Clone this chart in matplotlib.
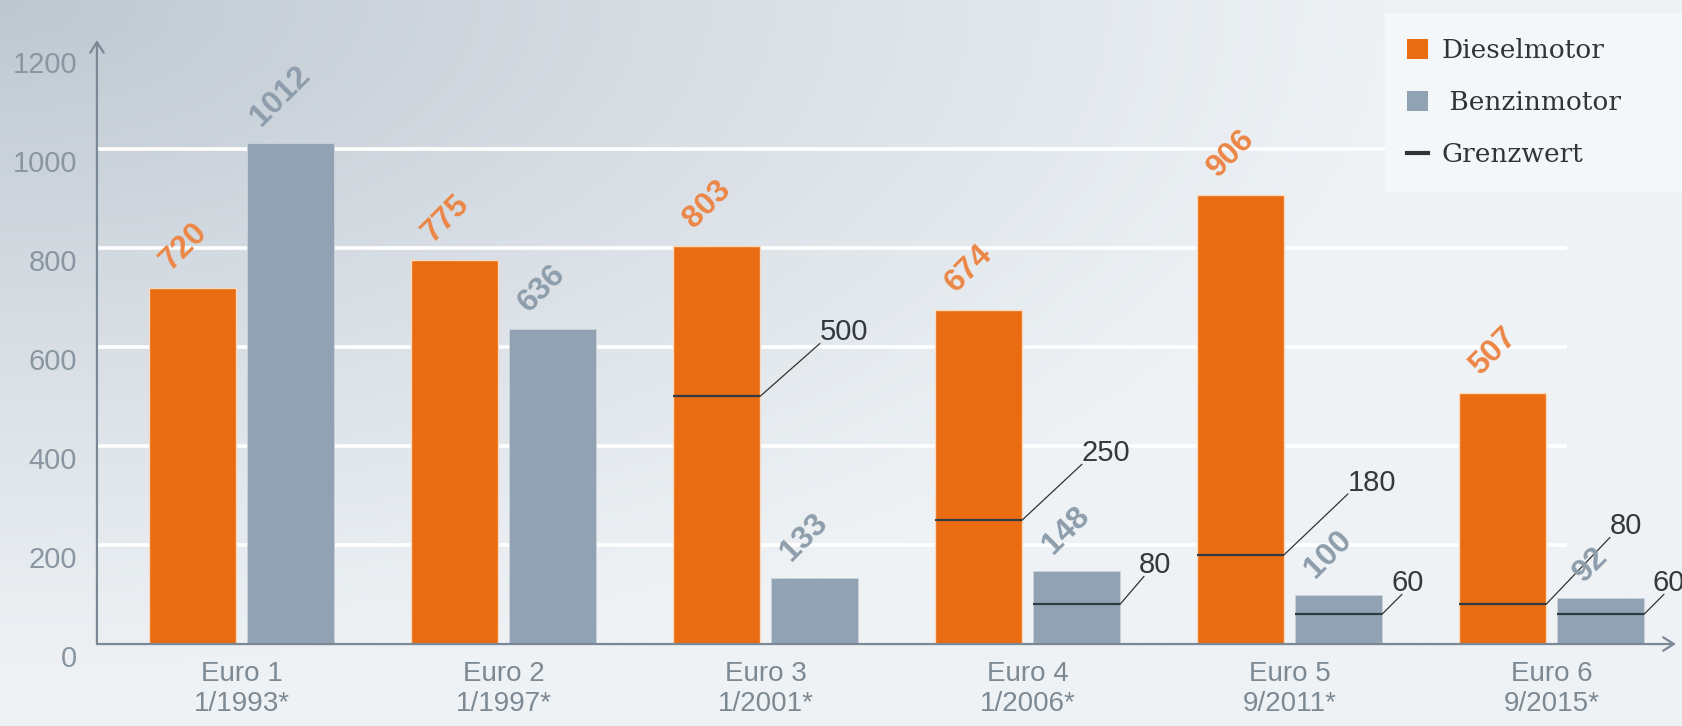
import numpy as np
import matplotlib
matplotlib.use('Agg')
import matplotlib.pyplot as plt
from matplotlib.patches import Patch, Rectangle
from matplotlib.lines import Line2D

plt.rcParams['font.family'] = ['Liberation Sans', 'DejaVu Sans']

# Daten: NOx-Ausstoß im Realbetrieb (mg/km) und Grenzwerte je Abgasnorm
NORMEN = ['Euro 1', 'Euro 2', 'Euro 3', 'Euro 4', 'Euro 5', 'Euro 6']
DATUM = ['1/1993*', '1/1997*', '1/2001*', '1/2006*', '9/2011*', '9/2015*']
DIESEL = [720, 775, 803, 674, 906, 507]
BENZIN = [1012, 636, 133, 148, 100, 92]
GRENZ_DIESEL = [None, None, 500, 250, 180, 80]
GRENZ_BENZIN = [None, None, None, 80, 60, 60]
Y_TICKS = [0, 200, 400, 600, 800, 1000, 1200]
GRID = [200, 400, 600, 800, 1000]

DIESEL_COLOR = '#e96b12'
BENZIN_COLOR = '#91a3b3'
DIESEL_TEXT = '#ec8646'
BENZIN_TEXT = '#8d9dab'
AXIS_COLOR = '#7b8895'
TICK_COLOR = '#8a96a1'
DARK = '#2f3b45'

BAR_W = 0.332
OFFSET = 0.187

# Lage der Grenzwert-Beschriftungen (Pixel-Versatz der Führungslinie, Text-Versatz)
LEADER_DIESEL = [None, None, (60, 53, 0), (60, 56, 0), (64, 61, 0), (64, 67, 0)]
LEADER_BENZIN = [None, None, None, (24, 28, -5), (20, 20, -10), (20, 20, -11)]

fig = plt.figure(figsize=(16.83, 7.26), dpi=100)

# Hintergrund mit Verlauf von links oben (dunkler) nach rechts unten (hell)
bg = fig.add_axes([0, 0, 1, 1], zorder=0)
u, v = np.meshgrid(np.linspace(0, 1, 400), np.linspace(0, 1, 200))
d = np.clip(1 - np.sqrt((u / 0.85) ** 2 + (v / 0.95) ** 2), 0, 1) ** 1.1
dark = np.array([0xbf, 0xc8, 0xd1]) / 255
light = np.array([0xee, 0xf2, 0xf5]) / 255
img = light[None, None, :] + d[..., None] * (dark - light)[None, None, :]
bg.imshow(img, extent=[0, 1, 0, 1], aspect='auto', origin='upper', interpolation='bilinear')
bg.axis('off')

ax = fig.add_axes([0.0576, 0.1129, 0.9382, 0.8321], zorder=1)
ax.set_facecolor('none')
ax.set_xlim(-0.5515, 5.475)
ax.set_ylim(0, 1220)
for s in ax.spines.values():
    s.set_visible(False)

x = np.arange(len(NORMEN))
ax.hlines(GRID, -0.5515, 5.06, color='white', lw=2.6, zorder=1)

ax.bar(x - OFFSET, DIESEL, BAR_W, color=DIESEL_COLOR, edgecolor='#fbd9bf', lw=1.0, zorder=2)
ax.bar(x + OFFSET, BENZIN, BAR_W, color=BENZIN_COLOR, edgecolor='#c9d3dc', lw=0.6, zorder=2)

# Werte über den Balken
for i in x:
    ax.annotate(str(DIESEL[i]), (i - OFFSET, DIESEL[i]), xytext=(-9, 12), textcoords='offset pixels',
                rotation=45, ha='center', va='bottom', fontsize=23, fontweight='bold',
                color=DIESEL_TEXT, zorder=4)
    ax.annotate(str(BENZIN[i]), (i + OFFSET, BENZIN[i]), xytext=(-10, 11), textcoords='offset pixels',
                rotation=45, ha='center', va='bottom', fontsize=23, fontweight='bold',
                color=BENZIN_TEXT, zorder=4)

# Grenzwerte mit Führungslinie
def grenzwert(xc, wert, leader):
    dx, dy, tx = leader
    right = xc + BAR_W / 2
    ax.hlines(wert, xc - BAR_W / 2, right, color=DARK, lw=1.6, zorder=3)
    ax.annotate('', (right, wert), xytext=(dx, dy), textcoords='offset pixels',
                arrowprops=dict(arrowstyle='-', color='#333333', lw=0.9, shrinkA=0, shrinkB=0),
                zorder=3)
    ax.annotate(str(wert), (right, wert), xytext=(dx + tx, dy - 3), textcoords='offset pixels',
                ha='left', va='bottom', fontsize=21, color='#34393e', zorder=5,
                annotation_clip=False)

for i in x:
    if GRENZ_DIESEL[i] is not None:
        grenzwert(i - OFFSET, GRENZ_DIESEL[i], LEADER_DIESEL[i])
    if GRENZ_BENZIN[i] is not None:
        grenzwert(i + OFFSET, GRENZ_BENZIN[i], LEADER_BENZIN[i])

# Achsen mit Pfeilspitzen
arrow = dict(arrowstyle='->,head_length=0.35,head_width=0.22', color=AXIS_COLOR, lw=1.6,
             shrinkA=0, shrinkB=0, mutation_scale=22)
ax.annotate('', xy=(1, 0), xytext=(0, 0), xycoords='axes fraction', arrowprops=arrow, zorder=3)
ax.annotate('', xy=(0, 1), xytext=(0, 0), xycoords='axes fraction', arrowprops=arrow, zorder=3)

ax.set_yticks([])
for t in Y_TICKS:
    ax.annotate(str(t), (0, t), xycoords=('axes fraction', 'data'), xytext=(-20, -15),
                textcoords='offset pixels', ha='right', va='center', fontsize=21, color=TICK_COLOR,
                annotation_clip=False)

ax.set_xticks(x, [f'{n}\n{d}' for n, d in zip(NORMEN, DATUM)])
ax.tick_params(axis='x', length=0, pad=12, labelsize=20, labelcolor='#7d8993')

# Legende auf hellem Feld rechts oben
fig.patches.append(Rectangle((1385 / 1683, 1 - 192 / 726), 1 - 1385 / 1683, 179 / 726,
                             transform=fig.transFigure, facecolor='#f4f7fa', edgecolor='none',
                             zorder=5))
handles = [Patch(facecolor=DIESEL_COLOR), Patch(facecolor=BENZIN_COLOR),
           Line2D([], [], color='#333333', lw=3)]
fig.legend(handles, ['Dieselmotor', ' Benzinmotor', 'Grenzwert'], loc='upper left',
           bbox_to_anchor=(1407 / 1683, 1 - 38 / 726), frameon=False, borderpad=0,
           borderaxespad=0, handlelength=0.8, handleheight=0.8, handletextpad=0.5,
           labelspacing=1.03, prop={'family': 'DejaVu Serif', 'size': 19},
           labelcolor='#333333').set_zorder(6)

fig.savefig('out.png', dpi=100)
